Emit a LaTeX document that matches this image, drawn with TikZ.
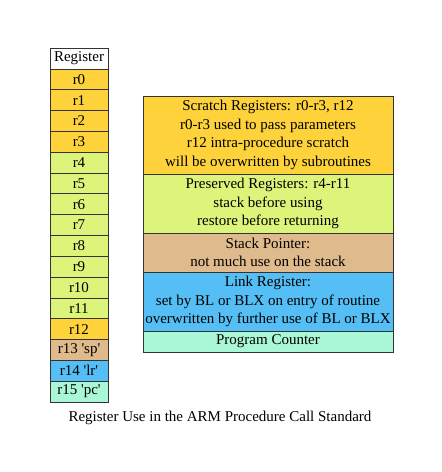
\documentclass[tikz,border=0pt]{standalone}
\usepackage{fontspec}
\setmainfont{Liberation Serif}[Ligatures=TeXOff]
\definecolor{cscratch}{HTML}{FDD23B}
\definecolor{cpres}{HTML}{DCF47A}
\definecolor{cstack}{HTML}{DEBA8C}
\definecolor{clink}{HTML}{55BFF5}
\definecolor{cpc}{HTML}{A9F7D6}
\begin{document}
\begin{tikzpicture}[x=1pt,y=-1pt,
  reg/.style={draw=black!80,line width=0.6pt,minimum width=58pt,minimum height=20.82pt,inner sep=0pt,font=\fontsize{15}{18}\selectfont},
  info/.style={draw=black!80,line width=0.6pt,minimum width=250pt,inner sep=0pt,align=center,font=\fontsize{15}{18.4}\selectfont}]
\useasboundingbox (0,0) rectangle (442,472);
\fill[white] (0,0) rectangle (442,472);
\def\rh{20.82}
\node[reg,fill=white] (hdr) at (79,48+0.5*\rh) {Register};
\foreach \n/\t/\c [count=\i] in {r0/r0/cscratch,r1/r1/cscratch,r2/r2/cscratch,r3/r3/cscratch,
  r4/r4/cpres,r5/r5/cpres,r6/r6/cpres,r7/r7/cpres,r8/r8/cpres,r9/r9/cpres,r10/r10/cpres,r11/r11/cpres,
  r12/r12/cscratch,r13/{r13 'sp'}/cstack,r14/{r14 'lr'}/clink,r15/{r15 'pc'}/cpc}
  \node[reg,fill=\c] (\n) at (79,48+\i*\rh+0.5*\rh) {\t};
\node[info,fill=cscratch,minimum height=78pt] (scr) at (268,135) {Scratch Registers: r0-r3, r12\\r0-r3 used to pass parameters\\r12 intra-procedure scratch\\will be overwritten by subroutines};
\node[info,fill=cpres,minimum height=59pt] (pres) at (268,203.5) {Preserved Registers: r4-r11\\stack before using\\restore before returning};
\node[info,fill=cstack,minimum height=39pt] (sp) at (268,252.5) {Stack Pointer:\\not much use on the stack};
\node[info,fill=clink,minimum height=59pt] (lr) at (268,301.5) {Link Register:\\set by BL or BLX on entry of routine\\overwritten by further use of BL or BLX};
\node[info,fill=cpc,minimum height=21pt] (pc) at (268,341.5) {Program Counter};
\node[font=\fontsize{15}{18}\selectfont] (cap) at (220,418) {Register Use in the ARM Procedure Call Standard};
\end{tikzpicture}
\end{document}
